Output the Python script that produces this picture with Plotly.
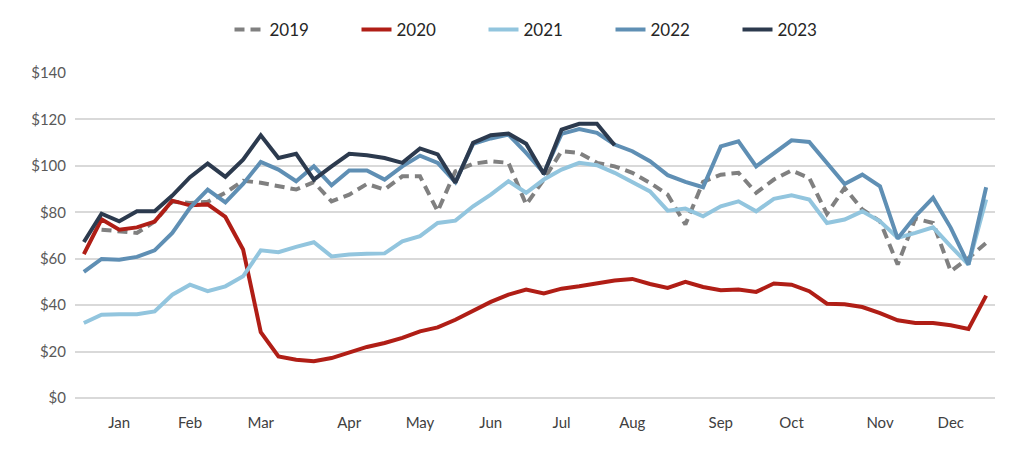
import plotly.graph_objects as go

weeks = list(range(52))
month_ticks = [2, 6, 10, 15, 19, 23, 27, 31, 36, 40, 45, 49]
month_labels = ["Jan", "Feb", "Mar", "Apr", "May", "Jun", "Jul", "Aug", "Sep", "Oct", "Nov", "Dec"]
y_ticks = [0, 20, 40, 60, 80, 100, 120, 140]
y_labels = ["$0", "$20", "$40", "$60", "$80", "$100", "$120", "$140"]

s2019 = [None, 72.5, 71.8, 71.1, 76, 84.6, 84, 84.5, 88.4, 93.6, 92.7, 91.2, 89.8, 93,
         84.7, 87.6, 92.2, 89.8, 95.5, 95.5, 80.4, 97.7, 100.9, 102, 101.3, 83.3, 94.1,
         106.3, 105.6, 101.3, 99.8, 97, 92.7, 87.6, 74.7, 93.1, 96.2, 97, 88.4, 94.1,
         98, 94.8, 79.3, 90.5, 81.2, 76.1, 57.5, 77.3, 75.4, 54.6, 60.3, 66.8]
s2020 = [62, 77, 72.5, 73.5, 76, 85, 83, 83.4, 78, 64, 28.4, 17.9, 16.5, 15.8,
         17.2, 19.4, 22, 23.7, 25.9, 28.7, 30.4, 33.7, 37.6, 41.4, 44.5, 46.7, 45,
         47.1, 48.1, 49.3, 50.6, 51.3, 49.1, 47.4, 50, 47.8, 46.4, 46.7, 45.7, 49.3,
         48.8, 46, 40.6, 40.4, 39.2, 36.6, 33.5, 32.3, 32.3, 31.3, 29.7, 44.1]
s2021 = [32.3, 35.9, 36.1, 36.1, 37.3, 44.5, 48.8, 46, 48.1, 52.4, 63.6, 62.8, 65.1, 67.1,
         61, 61.8, 62.1, 62.3, 67.5, 69.7, 75.4, 76.4, 82.6, 87.6, 93.4, 88.4, 94.1,
         98.4, 101.3, 100.3, 97, 93.1, 89, 80.7, 81.6, 78.3, 82.6, 84.7, 80.4, 85.8,
         87.3, 85.5, 75.4, 76.9, 80.4, 76.1, 69, 71.1, 73.5, 65.3, 57.5, 85.5]
s2022 = [54.3, 59.9, 59.6, 60.8, 63.6, 71.1, 81.9, 89.8, 84.3, 92.2, 101.7, 98.4, 93.4, 99.8,
         91.6, 98, 98, 94.1, 99.8, 104.4, 101.3, 93, 109.5, 111.8, 113.5, 105.6, 97,
         113.8, 115.9, 114.2, 109.2, 106.3, 102, 96, 93.1, 90.8, 108.4, 110.6, 99.8, 105.6,
         111, 110.3, 101.3, 92.2, 96.2, 91.2, 68.7, 78.3, 86.2, 73.3, 57.5, 90.8]
s2023 = [67.2, 79.4, 76.1, 80.4, 80.4, 87.2, 95.1, 101, 95.3, 102.7, 113.2, 103.4, 105.2, 94.1,
         99.8, 105.2, 104.6, 103.4, 101.3, 107.5, 104.9, 92.7, 109.9, 113.2, 113.9, 109.5, 96.5,
         115.6, 118.1, 118.1, 108.9]

series = [
    ("2019", s2019, "#808080", "10px,6px"),
    ("2020", s2020, "#B01E16", "solid"),
    ("2021", s2021, "#92C5DE", "solid"),
    ("2022", s2022, "#5F8FB4", "solid"),
    ("2023", s2023, "#2C3A4E", "solid"),
]

fig = go.Figure()
for name, vals, color, dash in series:
    fig.add_trace(go.Scatter(
        x=weeks[:len(vals)], y=vals, name=name, mode="lines",
        line=dict(color=color, width=4, dash=dash),
        connectgaps=False, hoverinfo="skip",
    ))

# the page body has an 8px default margin, so the figure is 8px smaller
W, H = 1016, 441
font_family = "Lato, 'Noto Sans', sans-serif"
fig.update_layout(
    width=W, height=H,
    margin=dict(l=67, r=29, t=65, b=51, autoexpand=False),
    paper_bgcolor="white", plot_bgcolor="white",
    font=dict(family=font_family, size=15, color="#595959"),
    showlegend=True,
    legend=dict(
        orientation="h", xref="container", x=539 / W, xanchor="center",
        yref="container", y=1 - 22 / H, yanchor="middle",
        font=dict(size=17, color="#262626"),
        entrywidth=82, entrywidthmode="pixels",
        bgcolor="rgba(0,0,0,0)",
    ),
    xaxis=dict(
        range=[-0.5, 51.5], tickmode="array", tickvals=month_ticks, ticktext=month_labels,
        showgrid=False, zeroline=False, showline=False, ticks="",
        ticklabelstandoff=14,
        tickfont=dict(size=15, color="#404040"),
    ),
    yaxis=dict(
        range=[0, 140], tickmode="array", tickvals=y_ticks, ticktext=y_labels,
        showgrid=True, gridcolor="#D9D9D9", gridwidth=1.5,
        zeroline=True, zerolinecolor="#D9D9D9", zerolinewidth=1.5,
        showline=False, ticks="", ticklabelstandoff=8,
        tickfont=dict(size=15, color="#595959"),
    ),
)

fig.write_html("out.html")
